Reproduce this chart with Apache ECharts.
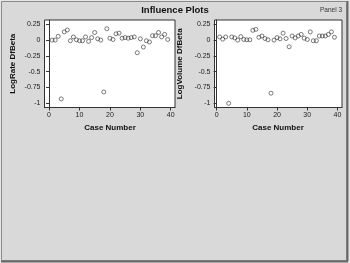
<!DOCTYPE html>
<html><head><meta charset="utf-8">
<script src="https://cdn.jsdelivr.net/npm/echarts@6/dist/echarts.min.js"></script>
<style>html,body{margin:0;padding:0;background:#e6e6e6;}#c{width:350px;height:263px;}</style>
</head><body><div id="c"></div>
<script>
var cases = [1,2,3,4,5,6,7,8,9,10,11,12,13,14,15,16,17,18,19,20,21,22,23,24,25,26,27,28,29,30,31,32,33,34,35,36,37,38,39];
var logRateDfBeta = [0,0,0.06,-0.93,0.13,0.16,-0.01,0.05,0.005,-0.01,-0.01,0.05,-0.02,0.04,0.12,0.02,0,-0.82,0.18,0.03,0.01,0.10,0.11,0.03,0.04,0.03,0.04,0.05,-0.20,0.02,-0.11,-0.01,-0.03,0.07,0.07,0.12,0.05,0.09,0.01];
var logVolumeDfBeta = [0.05,0.015,0.05,-1.0,0.05,0.035,0,0.055,0.01,0.005,0.005,0.155,0.17,0.045,0.065,0.025,0.005,-0.84,0,0.04,0.02,0.11,0.025,-0.105,0.065,0.035,0.065,0.09,0.03,0.01,0.13,-0.01,-0.01,0.065,0.065,0.065,0.09,0.13,0.045];
var yTicks = [0.25,0,-0.25,-0.5,-0.75,-1];
var xTicks = [0,10,20,30,40];

function pts(vals){ return cases.map(function(c,i){return [c, vals[i]];}); }
var F = 'Liberation Sans, Arial, sans-serif';
function yAxis(idx, name, gap){
  return {gridIndex: idx, type:'value', min:-1.066, max:0.318,
    name:name, nameLocation:'middle', nameGap:gap,
    nameTextStyle:{fontSize:8, fontWeight:'bold', fontFamily:F, color:'#111'},
    axisLine:{show:true, lineStyle:{color:'#333', width:1}},
    axisTick:{show:true, length:3, lineStyle:{color:'#333'}, customValues: yTicks},
    axisLabel:{fontSize:7, color:'#222', fontFamily:F, margin:4, customValues: yTicks},
    splitLine:{show:false}};
}
function xAxis(idx, mn, mx){
  return {gridIndex: idx, type:'value', min:mn, max:mx,
    axisLine:{show:true, onZero:false, lineStyle:{color:'#333', width:1}},
    axisTick:{show:true, length:3, lineStyle:{color:'#333'}, customValues: xTicks},
    axisLabel:{fontSize:7, color:'#222', fontFamily:F, margin:4, customValues: xTicks},
    splitLine:{show:false}};
}
var chart = echarts.init(document.getElementById('c'), null, {renderer:'canvas'});
chart.setOption({
  animation:false,
  backgroundColor:'transparent',
  graphic:[
    {type:'rect', z:-10, shape:{x:1.5,y:1.5,width:345,height:259}, style:{fill:'#d9d9d9', stroke:'#8a8a8a', lineWidth:1}},
    {type:'line', z:-9, shape:{x1:347.5,y1:1,x2:347.5,y2:261.5}, style:{stroke:'#6a6a6a', lineWidth:2}},
    {type:'line', z:-9, shape:{x1:1,y1:261.5,x2:348,y2:261.5}, style:{stroke:'#6a6a6a', lineWidth:2}},
    {type:'text', x:175, y:10, style:{text:'Influence Plots', font:'bold 9.5px '+F, fill:'#111', align:'center', verticalAlign:'middle'}},
    {type:'text', x:342, y:10, style:{text:'Panel 3', font:'6.5px '+F, fill:'#333', align:'right', verticalAlign:'middle'}},
    {type:'text', x:110, y:128, style:{text:'Case Number', font:'bold 8px '+F, fill:'#111', align:'center', verticalAlign:'middle'}},
    {type:'text', x:278, y:128, style:{text:'Case Number', font:'bold 8px '+F, fill:'#111', align:'center', verticalAlign:'middle'}}
  ],
  grid:[
    {left:44.5, top:20, width:130.5, height:87.5, show:true, backgroundColor:'#fff', borderColor:'#333', borderWidth:1},
    {left:214.5, top:20, width:127.5, height:87.5, show:true, backgroundColor:'#fff', borderColor:'#333', borderWidth:1}
  ],
  xAxis:[ xAxis(0,-1.5,41.4), xAxis(1,-0.7,41.5) ],
  yAxis:[ yAxis(0,'LogRate DfBeta',28), yAxis(1,'LogVolume DfBeta',31) ],
  series:[
    {type:'scatter', xAxisIndex:0, yAxisIndex:0, data:pts(logRateDfBeta), symbol:'circle', symbolSize:4,
      itemStyle:{color:'rgba(255,255,255,0)', borderColor:'#333', borderWidth:0.8}},
    {type:'scatter', xAxisIndex:1, yAxisIndex:1, data:pts(logVolumeDfBeta), symbol:'circle', symbolSize:4,
      itemStyle:{color:'rgba(255,255,255,0)', borderColor:'#333', borderWidth:0.8}}
  ]
});
</script></body></html>
